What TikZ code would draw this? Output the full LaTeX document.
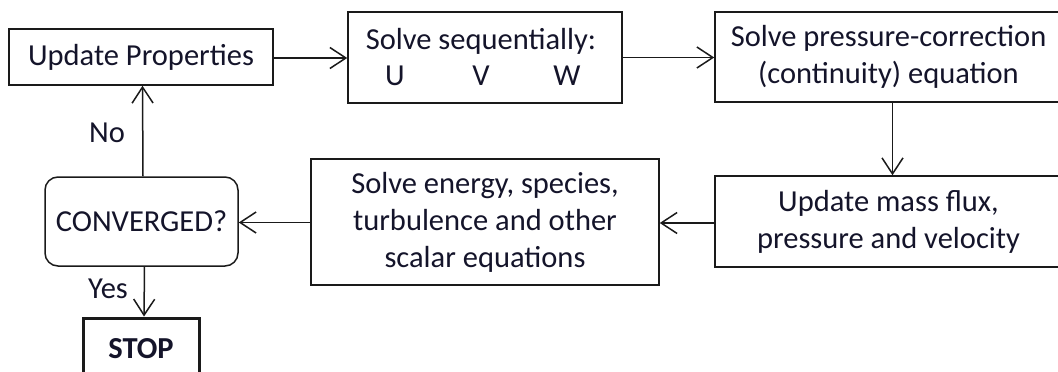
\documentclass[tikz,border=0pt]{standalone}
\usepackage{fontspec}
\setmainfont{Carlito}
\usetikzlibrary{arrows.meta}
\definecolor{ink}{HTML}{1A1A1A}
\definecolor{txt}{HTML}{14142A}
\begin{document}
\begin{tikzpicture}[x=1pt,y=-1pt,
  every node/.style={font=\fontsize{30.5}{37}\selectfont, text=txt},
  box/.style={draw=ink, line width=1.5pt, rectangle, align=center, inner sep=0pt},
  flow/.style={draw=ink, line width=1.5pt,
    -{Straight Barb[length=16pt,width=21pt,line width=1.5pt]}},
  lbl/.style={inner sep=0pt}
]
\useasboundingbox (0,0) rectangle (1058,372);
\clip (0,0) rectangle (1058,372);

% top row
\node[box, minimum width=264pt, minimum height=56pt] (upd) at (141,57) {Update Properties};
\node[box, minimum width=274pt, minimum height=91pt] (seq) at (485,57.5)
  {\hspace*{-8pt}Solve sequentially:\\[-1pt]\hspace*{-8pt}\makebox[86pt]{U}\makebox[86pt]{V}\makebox[86pt]{W}};
\node[box, minimum width=347pt, minimum height=90pt] (pc) at (888.5,57)
  {Solve pressure-correction\\(continuity) equation};

% bottom row
\node[box, minimum width=347pt, minimum height=91pt] (mf) at (888.5,221.5)
  {Update mass flux,\\pressure and velocity};
\node[box, minimum width=348pt, minimum height=126pt] (sc) at (485,222)
  {Solve energy, species,\\turbulence and other\\scalar equations};
\node[box, rounded corners=13pt, minimum width=193pt, minimum height=89pt] (conv) at (141.5,221.5)
  {CONVERGED?};
\node[box, line width=3pt, minimum width=116pt, minimum height=90pt] (stop) at (141,363) {};
\node[lbl, font=\fontsize{30.5}{37}\selectfont\bfseries] (stoptxt) at (141,349) {STOP};

% connectors
\draw[flow] (upd.east |- 0,58) -- (seq.west |- 0,58);
\draw[flow] (seq.east |- 0,57.5) -- (pc.west |- 0,57.5);
\draw[flow] ([xshift=4pt]pc.south) -- ([xshift=4pt]mf.north);
\draw[flow] (mf.west |- 0,223) -- (sc.east |- 0,223);
\draw[flow] (sc.west |- 0,222.5) -- (conv.east |- 0,222.5);
\draw[flow] ([xshift=1.5pt]conv.north) -- ([xshift=1.5pt]upd.south);
\draw[flow] ([xshift=3pt]conv.south) -- ([xshift=3pt]stop.north);

% branch labels
\node[lbl] (no) at (107,133) {No};
\node[lbl] (yes) at (108,289) {Yes};
\end{tikzpicture}
\end{document}
